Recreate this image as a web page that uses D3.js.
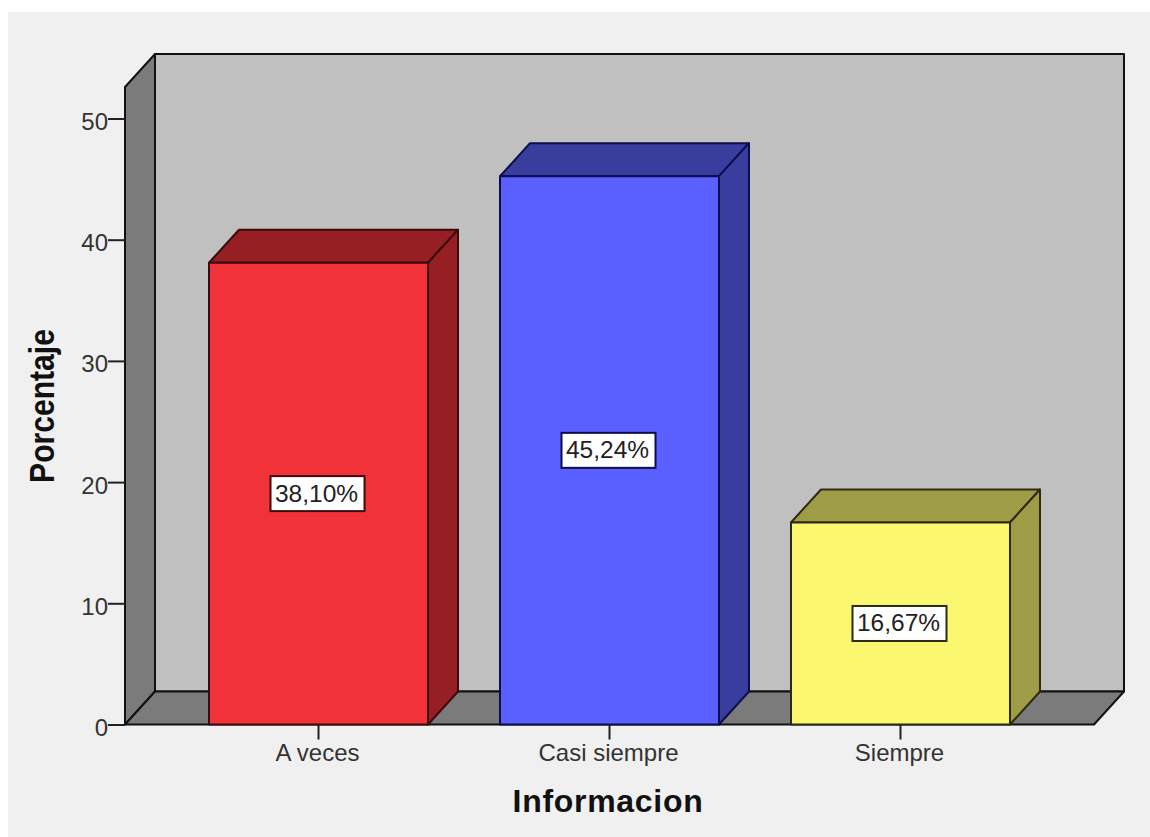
<!DOCTYPE html>
<html>
<head>
<meta charset="utf-8">
<script src="https://cdn.jsdelivr.net/npm/d3@7"></script>
<style>
  html, body { margin: 0; padding: 0; background: #fff; overflow: hidden; }
  svg { display: block; }
  text { font-family: "Liberation Sans", Arial, sans-serif; fill: #222; }
</style>
</head>
<body>
<svg id="chart" width="1150" height="837"></svg>
<script>
const categories = ["A veces", "Casi siempre", "Siempre"];
const percentages = [38.10, 45.24, 16.67];
const valueLabels = ["38,10%", "45,24%", "16,67%"];
const frontColors = ["#f13239", "#5a60ff", "#fbf86f"];
const sideColors = ["#961f24", "#393d9e", "#9e9c47"];
const edgeColors = ["#3a0a0c", "#0c0e4a", "#2c2b10"];
const yTicks = [0, 10, 20, 30, 40, 50];
const yAxisTitle = "Porcentaje";
const xAxisTitle = "Informacion";

const svg = d3.select("#chart");

// Panel and plot extents
const panel = { x: 8, y: 12, w: 1142, h: 825 };
const plot = { left: 125, right: 1094, bottom: 724.5, top: 87 };
const depth = { dx: 30, dy: -33 };

const y = d3.scaleLinear().domain([0, 50]).range([plot.bottom, 118.5]);
const x = d3.scaleBand().domain(categories)
  .range([plot.left, plot.right])
  .paddingInner(0.2474).paddingOuter(0.2887);

const poly = pts => pts.map(p => p.join(",")).join(" ");

svg.append("rect")
  .attr("x", panel.x).attr("y", panel.y)
  .attr("width", panel.w).attr("height", panel.h)
  .attr("fill", "#f0f0f0");

// Box of the 3D plot area: left wall, floor, back wall
const frame = svg.append("g")
  .attr("stroke", "#111").attr("stroke-width", 2).attr("stroke-linejoin", "round");
const bl = [plot.left, plot.bottom], br = [plot.right, plot.bottom], tl = [plot.left, plot.top];
const back = p => [p[0] + depth.dx, p[1] + depth.dy];

frame.append("polygon")
  .attr("points", poly([back(bl), back(br), back([plot.right, plot.top]), back(tl)]))
  .attr("fill", "#c0c0c0");
frame.append("polygon")
  .attr("points", poly([bl, back(bl), back(tl), tl]))
  .attr("fill", "#7b7b7b");
frame.append("polygon")
  .attr("points", poly([bl, br, back(br), back(bl)]))
  .attr("fill", "#7b7b7b");

// Extruded bars
const bars = svg.append("g").selectAll("g")
  .data(categories.map((c, i) => ({ c, v: percentages[i], i })))
  .join("g")
  .attr("stroke-width", 2).attr("stroke-linejoin", "round");

bars.each(function (d) {
  const g = d3.select(this).attr("stroke", edgeColors[d.i]);
  const x0 = x(d.c), x1 = x0 + x.bandwidth(), y0 = y(d.v), yb = y(0);
  g.append("polygon")
    .attr("points", poly([[x0, y0], [x1, y0], back([x1, y0]), back([x0, y0])]))
    .attr("fill", sideColors[d.i]);
  g.append("polygon")
    .attr("points", poly([[x1, y0], [x1, yb], back([x1, yb]), back([x1, y0])]))
    .attr("fill", sideColors[d.i]);
  g.append("rect")
    .attr("x", x0).attr("y", y0)
    .attr("width", x.bandwidth()).attr("height", yb - y0)
    .attr("fill", frontColors[d.i]);
});

// Value labels centred on each bar's front face
const labelW = 94, labelH = 35;
const labels = svg.append("g").selectAll("g")
  .data(categories.map((c, i) => ({ c, v: percentages[i], t: valueLabels[i], i })))
  .join("g")
  .attr("transform", d => `translate(${x(d.c) + x.bandwidth() / 2 - 1},${y(d.v / 2)})`);
labels.append("rect")
  .attr("x", -labelW / 2).attr("y", -labelH / 2)
  .attr("width", labelW).attr("height", labelH)
  .attr("fill", "#fff").attr("stroke", d => edgeColors[d.i]).attr("stroke-width", 2);
labels.append("text")
  .attr("text-anchor", "middle").attr("dy", 8).attr("dx", -1)
  .attr("font-size", 24.5)
  .text(d => d.t);

// Value axis
const yAxis = svg.append("g")
  .attr("transform", `translate(${plot.left},0)`)
  .call(d3.axisLeft(y).tickValues(yTicks).tickSize(17).tickPadding(0).tickSizeOuter(0));
yAxis.select(".domain").remove();
yAxis.selectAll("line").attr("stroke", "#222").attr("stroke-width", 2);
yAxis.selectAll("text").attr("font-size", 24).attr("dy", "0.46em").style("fill", "#333");

// Category axis
const xAxis = svg.append("g")
  .attr("transform", `translate(0,${plot.bottom})`)
  .call(d3.axisBottom(x).tickSize(15).tickPadding(4.5).tickSizeOuter(0));
xAxis.select(".domain").remove();
xAxis.selectAll("line").attr("stroke", "#222").attr("stroke-width", 2);
xAxis.selectAll("text").attr("font-size", 24).attr("dx", -1).style("fill", "#333");

// Axis titles
svg.append("text")
  .attr("transform", "translate(54,406) rotate(-90) scale(0.86,1)")
  .attr("text-anchor", "middle")
  .attr("font-size", 35).attr("font-weight", "bold")
  .style("fill", "#111")
  .text(yAxisTitle);
svg.append("text")
  .attr("x", 608).attr("y", 812)
  .attr("text-anchor", "middle")
  .attr("font-size", 32).attr("font-weight", "bold").attr("letter-spacing", 0.7)
  .style("fill", "#111")
  .text(xAxisTitle);
</script>
</body>
</html>
